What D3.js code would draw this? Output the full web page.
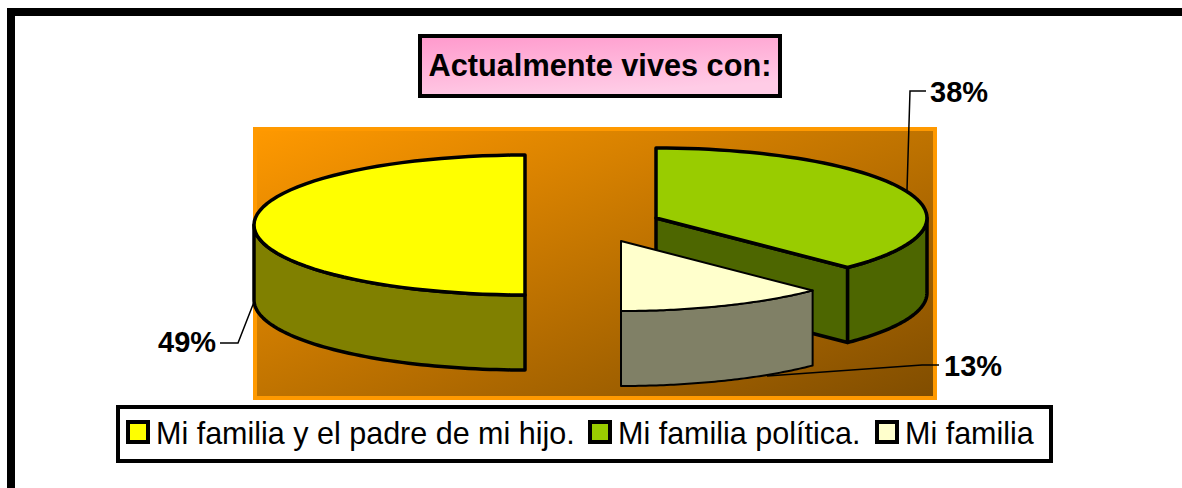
<!DOCTYPE html>
<html>
<head>
<meta charset="utf-8">
<script src="https://cdn.jsdelivr.net/npm/d3@7"></script>
<style>
  html, body { margin: 0; padding: 0; background: #fff; overflow: hidden; }
  text { font-family: "Liberation Sans", Arial, sans-serif; fill: #000; }
</style>
</head>
<body>
<div id="graph"></div>
<script>
const width = 1182, height = 488;

const chartTitle = 'Actualmente vives con:';
const categories = ['Mi familia y el padre de mi hijo.', 'Mi familia política.', 'Mi familia'];
const percentLabels = ['49%', '38%', '13%'];
// shares as the slices are actually drawn in the picture (half, 3/8, 1/8)
const sliceShares = [50, 37.5, 12.5];
const topColors = ['#ffff00', '#99cc00', '#ffffcc'];
const sideColors = ['#808000', '#4d6600', '#808066'];

// layout of the fake 3d pie
const rx = 271, ry = 70, depth = 75;
const centers = [[525, 225], [656, 218], [621, 241]];
const strokes = [3.5, 3.5, 2];

const svg = d3.select('#graph').append('svg')
  .attr('width', width)
  .attr('height', height)
  .style('display', 'block');

const defs = svg.append('defs');

function addGradient(id, stops, x2) {
  const g = defs.append('linearGradient').attr('id', id)
    .attr('x1', 0).attr('y1', 0).attr('x2', x2).attr('y2', 1);
  stops.forEach((c, i) => g.append('stop').attr('offset', i / (stops.length - 1)).attr('stop-color', c));
}
addGradient('plotFill', ['#ff9900', '#804d00'], 1);
addGradient('titleFill', ['#ff99cc', '#ffcce6'], 0.35);

// outer frame
svg.append('path')
  .attr('d', 'M11,488V12H1182')
  .attr('fill', 'none')
  .attr('stroke', '#000')
  .attr('stroke-width', 8);

// plot area
svg.append('rect')
  .attr('x', 255).attr('y', 129)
  .attr('width', 680).attr('height', 269)
  .attr('fill', 'url(#plotFill)')
  .attr('stroke', '#ff9900')
  .attr('stroke-width', 4);

// title box
svg.append('rect')
  .attr('x', 420).attr('y', 36)
  .attr('width', 360).attr('height', 60)
  .attr('fill', 'url(#titleFill)')
  .attr('stroke', '#000')
  .attr('stroke-width', 4);
svg.append('text')
  .attr('x', 600).attr('y', 76)
  .attr('text-anchor', 'middle')
  .attr('font-size', 30.7)
  .attr('font-weight', 'bold')
  .text(chartTitle);

// pie, clockwise from the bottom so that the yellow slice fills the left half
const pie = d3.pie().sort(null).startAngle(Math.PI).endAngle(3 * Math.PI);
const slices = pie(sliceShares);

const line = d3.line();
const point = (a, dy) => [rx * Math.sin(a), -ry * Math.cos(a) + (dy || 0)];

function arcPoints(a0, a1, dy) {
  const steps = d3.range(0, 61).map(i => a0 + (a1 - a0) * i / 60);
  return steps.map(a => point(a, dy));
}

// top face
function topPath(d) {
  return line([[0, 0], ...arcPoints(d.startAngle, d.endAngle), [0, 0]]) + 'Z';
}

// part of the outer wall facing the viewer (angles between 90 and 270 degrees, plus a turn)
function wallPaths(d) {
  const out = [];
  [[Math.PI / 2, 3 * Math.PI / 2], [5 * Math.PI / 2, 7 * Math.PI / 2]].forEach(([lo, hi]) => {
    const a0 = Math.max(d.startAngle, lo), a1 = Math.min(d.endAngle, hi);
    if (a1 > a0) {
      out.push(line([...arcPoints(a0, a1), ...arcPoints(a1, a0, depth)]) + 'Z');
    }
  });
  return out;
}

// flat cut faces, only the ones turned towards the viewer
function cutPaths(d) {
  const out = [];
  const quad = a => line([[0, 0], point(a), point(a, depth), [0, depth]]) + 'Z';
  if (Math.sin(d.endAngle) > 1e-6) out.push(quad(d.endAngle));
  if (Math.sin(d.startAngle) < -1e-6) out.push(quad(d.startAngle));
  return out;
}

const sliceG = svg.selectAll('.slice')
  .data(slices)
  .enter().append('g')
  .attr('class', 'slice')
  .attr('transform', (d, i) => 'translate(' + centers[i] + ')')
  .attr('stroke', '#000')
  .attr('stroke-width', (d, i) => strokes[i])
  .attr('stroke-linejoin', 'round');

sliceG.each(function (d, i) {
  const g = d3.select(this);
  cutPaths(d).concat(wallPaths(d)).forEach(p => {
    g.append('path').attr('d', p).attr('fill', sideColors[i]);
  });
  g.append('path').attr('d', topPath(d)).attr('fill', topColors[i]);
});

// percent labels with their leader lines
const labelX = [158, 930, 944];
const labelY = [352, 102, 376];
const leaders = [
  [[254, 302], [238, 343], [220, 343]],
  [[907, 190], [910, 91], [926, 91]],
  [[767, 376], [922, 365], [939, 365]]
];

svg.selectAll('.leader')
  .data(leaders)
  .enter().append('path')
  .attr('class', 'leader')
  .attr('d', d => line(d))
  .attr('fill', 'none')
  .attr('stroke', '#000')
  .attr('stroke-width', 1.5);

svg.selectAll('.pct')
  .data(percentLabels)
  .enter().append('text')
  .attr('class', 'pct')
  .attr('x', (d, i) => labelX[i])
  .attr('y', (d, i) => labelY[i])
  .attr('font-size', 29)
  .attr('font-weight', 'bold')
  .text(d => d);

// legend
svg.append('rect')
  .attr('x', 118).attr('y', 407)
  .attr('width', 933).attr('height', 54)
  .attr('fill', '#fff')
  .attr('stroke', '#000')
  .attr('stroke-width', 4);

const swatchX = [128, 590, 877];
const legendItem = svg.selectAll('.legend-item')
  .data(categories)
  .enter().append('g')
  .attr('class', 'legend-item')
  .attr('transform', (d, i) => 'translate(' + swatchX[i] + ',0)');

legendItem.append('rect')
  .attr('y', 422)
  .attr('width', 20).attr('height', 20)
  .attr('fill', (d, i) => topColors[i])
  .attr('stroke', '#000')
  .attr('stroke-width', 4);

legendItem.append('text')
  .attr('x', 28)
  .attr('y', 444)
  .attr('font-size', 30.5)
  .text(d => d);
</script>
</body>
</html>
